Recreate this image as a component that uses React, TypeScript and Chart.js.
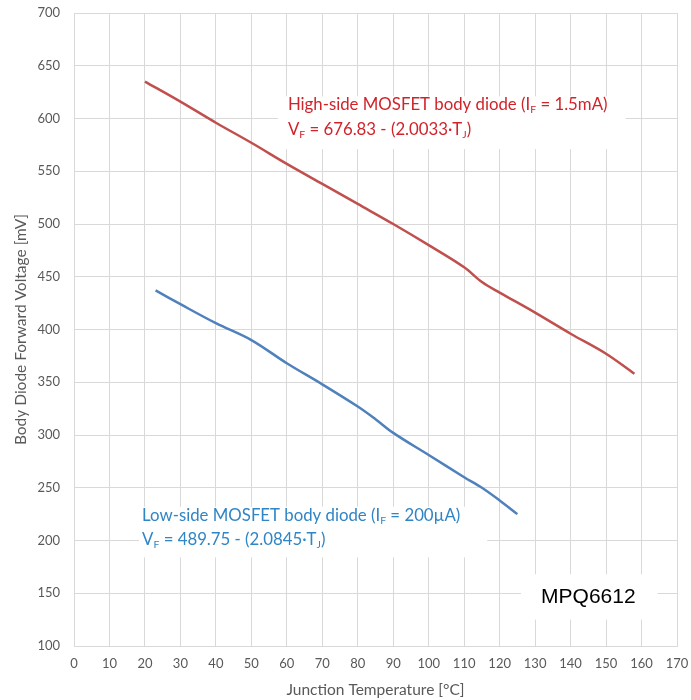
import React, { useEffect, useRef } from "react";
import { Chart, registerables } from "chart.js";

Chart.register(...registerables);

const highTemp = [20, 30, 40, 50, 60, 70, 80, 90, 100, 110, 115, 120, 130, 140, 150, 158];
const highVf = [635, 616, 596, 577, 557, 538, 519, 500, 480, 459, 445, 435, 416, 396, 377, 358];
const lowTemp = [23, 30, 40, 50, 60, 70, 80, 85, 90, 100, 110, 115, 120, 125];
const lowVf = [437, 424, 406, 390, 368, 348, 327, 315, 302, 281, 260, 250, 238, 225];

const highLabel1 = [
  { t: "High-side MOSFET body diode (I" },
  { t: "F", sub: true },
  { t: " = 1.5mA)" },
];
const highLabel2 = [{ t: "V" }, { t: "F", sub: true }, { t: " = 676.83 - (2.0033·T" }, { t: "J", sub: true }, { t: ")" }];
const lowLabel1 = [
  { t: "Low-side MOSFET body diode (I" },
  { t: "F", sub: true },
  { t: " = 200µA)" },
];
const lowLabel2 = [{ t: "V" }, { t: "F", sub: true }, { t: " = 489.75 - (2.0845·T" }, { t: "J", sub: true }, { t: ")" }];
const partName = "MPQ6612";

const FONT = "Lato, 'Open Sans', sans-serif";

type Seg = { t: string; sub?: boolean };

function drawRich(ctx: CanvasRenderingContext2D, segs: Seg[], x: number, y: number, size: number, color: string) {
  let cx = x;
  ctx.fillStyle = color;
  ctx.textBaseline = "middle";
  ctx.textAlign = "left";
  for (const s of segs) {
    if (s.sub) {
      ctx.font = `${(size * 0.62).toFixed(1)}px ${FONT}`;
      ctx.fillText(s.t, cx, y + size * 0.3);
    } else {
      ctx.font = `${size}px ${FONT}`;
      ctx.fillText(s.t, cx, y);
    }
    cx += ctx.measureText(s.t).width;
  }
}

const annotationPlugin = {
  id: "annots",
  afterDatasetsDraw(chart: any) {
    const { ctx, scales } = chart;
    const xs = scales.x;
    const ys = scales.y;
    ctx.save();
    const box = (x0: number, y0: number, x1: number, y1: number) => {
      const px0 = xs.getPixelForValue(x0);
      const px1 = xs.getPixelForValue(x1);
      const py0 = ys.getPixelForValue(y0);
      const py1 = ys.getPixelForValue(y1);
      ctx.fillStyle = "#ffffff";
      ctx.fillRect(px0, py0, px1 - px0, py1 - py0);
    };
    // high-side label
    box(57.5, 621, 155.5, 571);
    drawRich(ctx, highLabel1, xs.getPixelForValue(60.3), ys.getPixelForValue(613), 16.8, "#D1232A");
    drawRich(ctx, highLabel2, xs.getPixelForValue(60.3), ys.getPixelForValue(589.5), 16.8, "#D1232A");
    // low-side label
    box(18.3, 232, 116.5, 184);
    drawRich(ctx, lowLabel1, xs.getPixelForValue(19.2), ys.getPixelForValue(224), 16.8, "#2F85C5");
    drawRich(ctx, lowLabel2, xs.getPixelForValue(19.2), ys.getPixelForValue(200.5), 16.8, "#2F85C5");
    // part name
    box(126, 168, 164.5, 125);
    ctx.font = "21px 'Liberation Sans', Arial, sans-serif";
    ctx.fillStyle = "#000000";
    ctx.textAlign = "center";
    ctx.textBaseline = "middle";
    ctx.fillText(partName, xs.getPixelForValue(145), ys.getPixelForValue(146));
    ctx.restore();
  },
};

export default function App() {
  const ref = useRef<HTMLCanvasElement>(null);
  useEffect(() => {
    document.body.style.margin = "0";
    const canvas = ref.current!;
    const chart = new Chart(canvas, {
      type: "line",
      data: {
        datasets: [
          {
            label: "High-side",
            data: highTemp.map((x, i) => ({ x, y: highVf[i] })),
            borderColor: "#C0504D",
            borderWidth: 2.5,
            pointRadius: 0,
            tension: 0.35,
            fill: false,
          },
          {
            label: "Low-side",
            data: lowTemp.map((x, i) => ({ x, y: lowVf[i] })),
            borderColor: "#4F81BD",
            borderWidth: 2.5,
            pointRadius: 0,
            tension: 0.35,
            fill: false,
          },
        ],
      },
      options: {
        animation: false,
        responsive: false,
        devicePixelRatio: 1,
        layout: { padding: { top: 13, right: 14, left: 0, bottom: 0 } },
        plugins: { legend: { display: false }, tooltip: { enabled: false } },
        scales: {
          x: {
            type: "linear",
            min: 0,
            max: 170,
            ticks: { stepSize: 10, color: "#595959", font: { family: FONT, size: 13 }, padding: 10, maxRotation: 0 },
            grid: { color: "#D9D9D9", lineWidth: 1, drawTicks: false },
            border: { color: "#D9D9D9" },
            title: {
              display: true,
              text: "Junction Temperature [°C]",
              color: "#595959",
              font: { family: FONT, size: 15.5 },
              padding: { top: 0, bottom: 1 },
            },
            afterFit: (s: any) => {
              s.height = 54;
              s.paddingLeft = 0;
              s.paddingRight = 0;
            },
          },
          y: {
            type: "linear",
            min: 100,
            max: 700,
            ticks: { stepSize: 50, color: "#595959", font: { family: FONT, size: 13 }, padding: 14 },
            grid: { color: "#D9D9D9", lineWidth: 1, drawTicks: false },
            border: { color: "#D9D9D9" },
            title: {
              display: true,
              text: "Body Diode Forward Voltage [mV]",
              color: "#595959",
              font: { family: FONT, size: 15.5 },
              padding: { top: 12, bottom: 0 },
            },
            afterFit: (s: any) => {
              s.width = 74;
              s.paddingTop = 0;
              s.paddingBottom = 0;
            },
          },
        },
      },
      plugins: [annotationPlugin],
    } as any);
    return () => chart.destroy();
  }, []);
  return <canvas ref={ref} width={691} height={700} style={{ display: "block" }} />;
}
